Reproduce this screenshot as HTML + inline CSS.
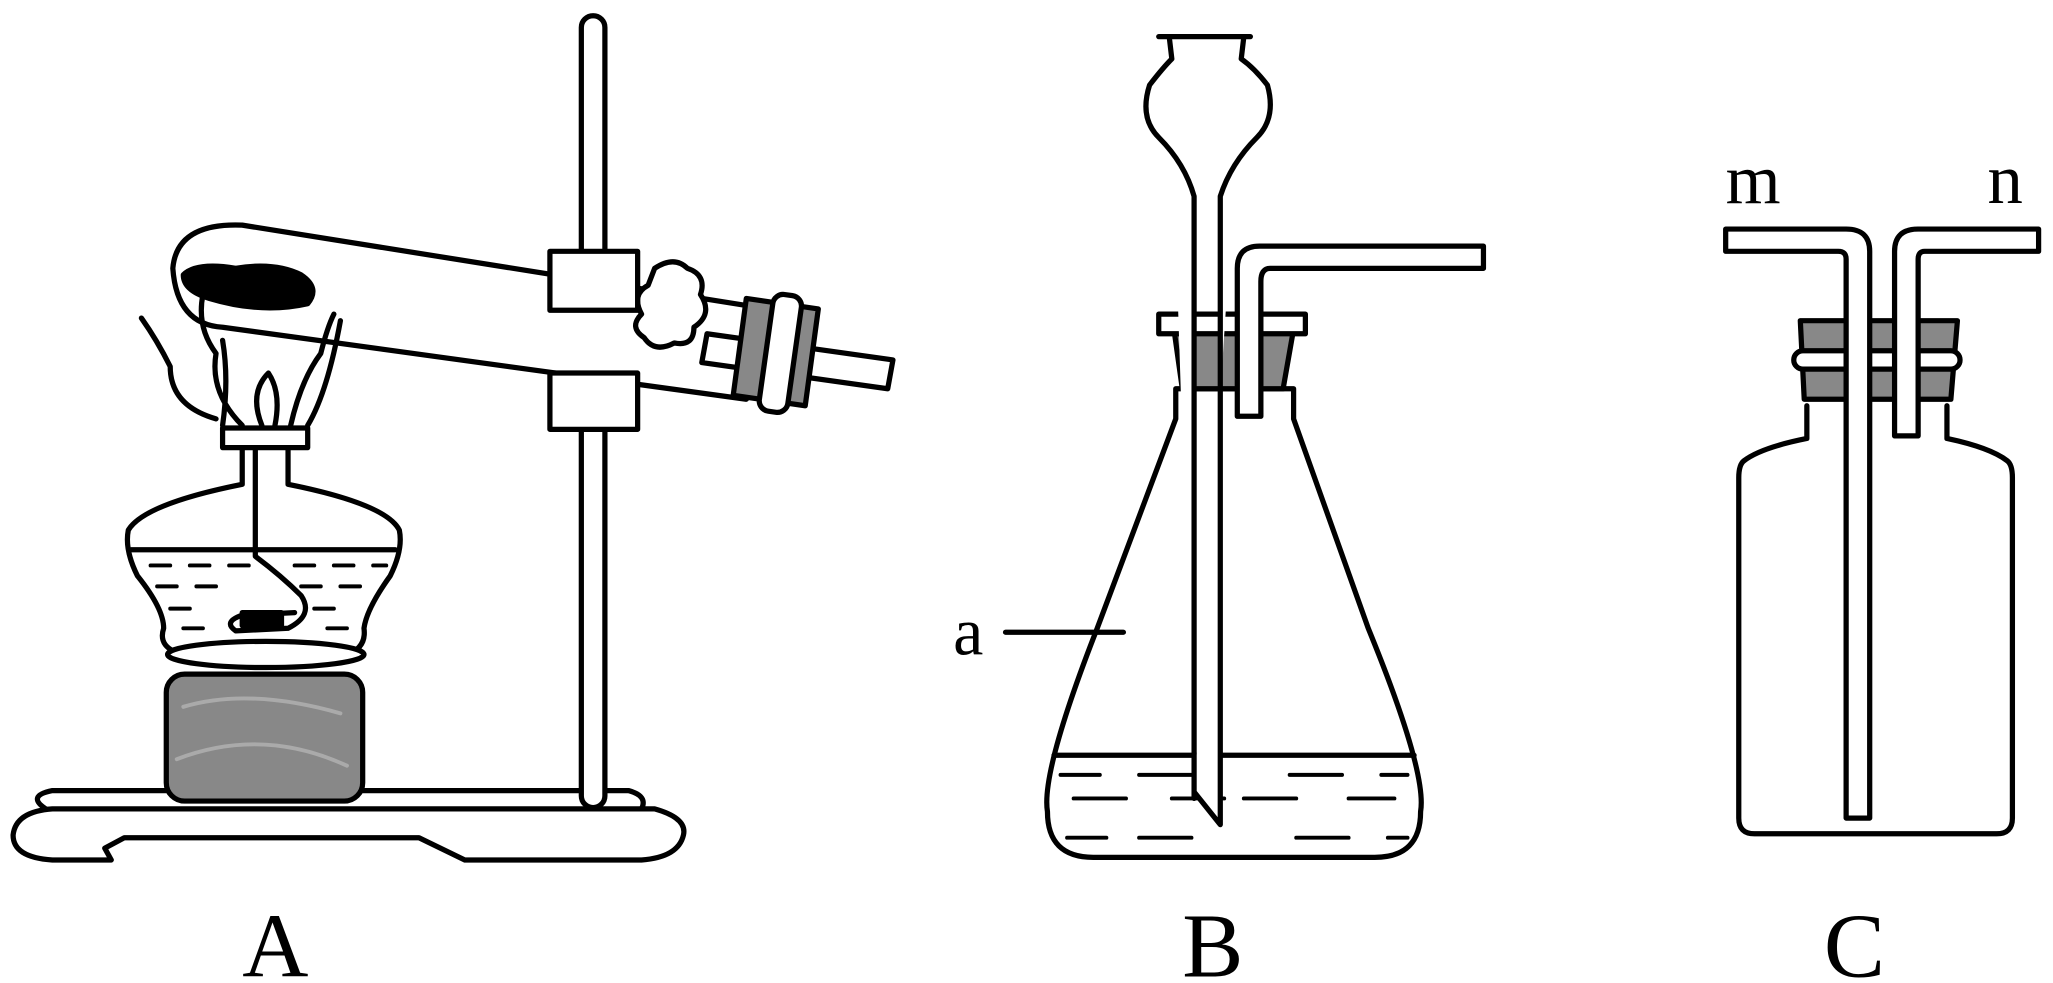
<!DOCTYPE html>
<html><head><meta charset="utf-8"><style>
html,body{margin:0;padding:0;background:#fff;}
svg{display:block;}
text{font-family:"Liberation Serif",serif;fill:#000;}
</style></head><body>
<svg width="2053" height="983" viewBox="0 0 1568 751" preserveAspectRatio="none" xmlns="http://www.w3.org/2000/svg">
<g fill="none" stroke="#000" stroke-width="4" stroke-linejoin="round" stroke-linecap="round">
<!-- ===== A ===== -->
<path d="M35,618 Q20,608 40,604 L480,604 Q495,608 490,618" fill="#fff"/>
<path d="M40,618 L500,618 Q525,625 522,638 Q518,655 490,657 L355,657 L320,640 L95,640 L80,648 L85,657 L40,657 Q10,655 10,638 Q12,620 40,618 Z" fill="#fff"/>
<rect x="444" y="12" width="18" height="605" rx="9" fill="#fff"/>
<path d="M580,235 L185,172 Q135,170 132,205 Q135,248 170,250 L570,305" fill="#fff"/>
<path d="M140,210 Q150,200 180,205 Q210,200 230,210 Q245,220 235,232 Q200,240 160,228 Q140,222 140,210Z" fill="#000"/>
<path d="M500,205 Q515,195 525,205 Q540,210 535,225 Q545,240 530,250 Q530,265 515,262 Q500,270 492,258 Q480,250 490,240 Q482,225 495,218Z" fill="#fff"/>
<path d="M540,255 L682,275 L678,297 L536,277Z" fill="#fff"/>
<path d="M570,228 L625,236 L615,310 L560,302Z" fill="#888"/>
<rect x="585" y="225" width="22" height="90" rx="8" fill="#fff" transform="rotate(8 596 270)"/>
<rect x="420" y="192" width="67" height="45" fill="#fff"/>
<rect x="420" y="285" width="67" height="43" fill="#fff"/>
<path d="M185,325 Q160,300 165,270 Q150,250 155,225 M200,325 Q190,300 205,285 Q215,300 210,325 M222,325 Q230,290 245,270 Q250,250 255,240 M170,325 Q175,290 170,260 M235,325 Q250,300 260,245 M165,320 Q130,310 130,280 Q120,260 108,243"/>
<rect x="170" y="327" width="65" height="15" fill="#fff"/>
<path d="M185,342 L185,370 Q110,385 98,405 Q95,420 105,440 Q125,465 125,480 Q120,495 140,500 L265,500 Q280,495 278,480 Q280,465 298,440 Q308,420 305,405 Q295,385 220,370 L220,342"/>
<path d="M100,420 L302,420"/>
<path d="M115,432h15M145,432h15M175,432h15M225,432h15M255,432h15M285,432h10M120,448h15M150,448h15M230,448h15M260,448h15M130,465h15M240,465h15M140,480h15M250,480h15M145,495h15" stroke-width="3"/>
<path d="M195,342 L195,425 Q215,440 230,455 Q240,470 220,480 L180,482 Q170,475 185,470 L225,468"/>
<rect x="185" y="468" width="30" height="10" fill="#000"/>
<ellipse cx="203" cy="500" rx="75" ry="10" fill="#fff"/>
<rect x="127" y="515" width="150" height="97" rx="14" fill="#888"/>
<path d="M140,540 Q190,525 260,545 M135,580 Q200,555 265,585" stroke="#aaa" stroke-width="3"/>
<!-- ===== B ===== -->
<path d="M898,320 L838,480 Q795,590 800,620 Q800,655 835,655 L1050,655 Q1085,655 1085,620 Q1090,590 1045,480 L988,320 L988,297 L898,297 Z" fill="#fff"/>
<path d="M805,577 L1080,577"/>
<path d="M810,592h30M870,592h40M985,592h40M1055,592h20M820,610h40M895,610h40M950,610h40M1030,610h35M815,640h30M870,640h40M990,640h40M1060,640h15" stroke-width="3"/>
<path d="M895,240 L990,240 L980,297 L903,297Z" fill="#888"/>
<rect x="885" y="240" width="112" height="15" fill="#fff"/>
<path d="M912,610 L912,150 Q905,125 885,105 Q870,90 878,65 Q888,52 895,45 L893,28 M950,28 L948,45 Q958,52 968,65 Q975,90 960,105 Q940,125 932,150 L932,630 L912,605" fill="#fff"/>
<path d="M885,28 L955,28"/>
<path d="M945,318 L945,205 Q945,188 962,188 L1133,188 L1133,205 L970,205 Q963,205 963,215 L963,318 Z" fill="#fff"/>
<path d="M768,483 L858,483"/>
<!-- ===== C ===== -->
<path d="M1380,310 L1380,335 Q1345,342 1332,352 Q1328,355 1328,365 L1328,625 Q1328,637 1340,637 L1525,637 Q1537,637 1537,625 L1537,365 Q1537,355 1533,352 Q1520,342 1487,335 L1487,310" fill="#fff"/>
<path d="M1375,245 L1495,245 L1490,305 L1378,305Z" fill="#888"/>
<rect x="1370" y="268" width="127" height="14" rx="7" fill="#fff"/>
<path d="M1318,175 L1410,175 Q1428,175 1428,192 L1428,625 L1410,625 L1410,198 Q1410,192 1404,192 L1318,192 Z" fill="#fff"/>
<path d="M1447,333 L1447,192 Q1447,175 1465,175 L1557,175 L1557,192 L1470,192 Q1465,192 1465,198 L1465,333 Z" fill="#fff"/>
</g>
<text x="728" y="500" font-size="52">a</text>
<text x="1318" y="155" font-size="54">m</text>
<text x="1518" y="155" font-size="54">n</text>
<text x="185" y="746" font-size="70">A</text>
<text x="903" y="746" font-size="70">B</text>
<text x="1393" y="746" font-size="70">C</text>
</svg>
</body></html>
